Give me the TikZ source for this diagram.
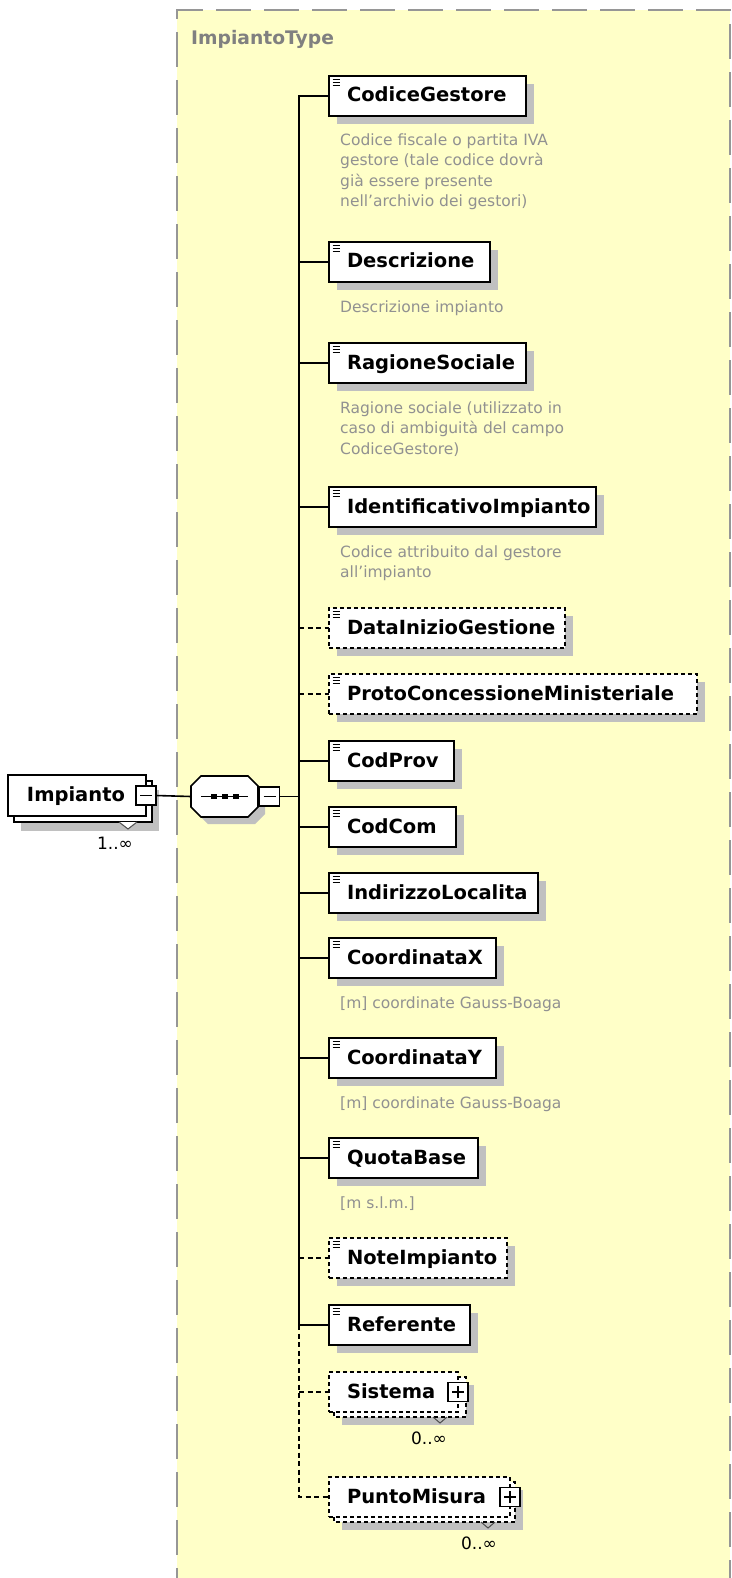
\documentclass[tikz,border=0pt]{standalone}
\usepackage{fontspec}
\setmainfont{DejaVu Sans}
\definecolor{bgyellow}{RGB}{255,255,200}
\definecolor{bordergray}{RGB}{150,150,150}
\definecolor{shadowc}{RGB}{192,192,192}
\definecolor{anncol}{RGB}{145,145,145}
\definecolor{titlecol}{RGB}{128,128,128}
\tikzset{
  elembox/.style={draw=black, line width=1.6pt, fill=white, anchor=north west, outer sep=0pt,
    inner xsep=0pt, inner ysep=0pt, minimum height=40pt, align=left,
    text height=15pt, text depth=3pt, font=\fontsize{19.5}{20}\selectfont\bfseries},
  optbox/.style={elembox, dash pattern=on 4pt off 3pt},
  optline/.style={draw=black, line width=1.6pt, dash pattern=on 4pt off 3pt},
  conn/.style={draw=black, line width=1.6pt},
  optconn/.style={draw=black, line width=1.6pt, dash pattern=on 5pt off 3.5pt},
  ann/.style={anchor=north west, inner sep=0pt, align=left, text=anncol,
    font=\fontsize{15.5}{20.5}\selectfont},
  btn/.style={draw=black, line width=1.2pt, fill=white, minimum width=20pt,
    minimum height=19pt, inner sep=0pt, outer sep=0pt},
  mult/.style={inner sep=0pt, font=\fontsize{17}{18}\selectfont},
  vmark/.style={draw=black!70, line width=1pt},
}
\newcommand\Icon[1]{\foreach \k in {0,1,2}{\draw[line width=0.9pt] ([xshift=3.5pt,yshift=-3.5pt-3pt*\k]#1.north west) -- ++(7.5,0);}}
\newcommand\Elem[5]{%
  \fill[shadowc] (337,#2+8) rectangle ++(#3,40);
  \node[#5, text width=#3pt] (#1) at (329,#2) {\hspace*{18pt}#4};
  \Icon{#1}}
\newcommand\MinusSign[1]{\draw[line width=1.2pt] ([xshift=-6pt]#1.center) -- ([xshift=6pt]#1.center);}
\newcommand\PlusSign[1]{\draw[line width=1.2pt] ([xshift=-6pt]#1.center) -- ([xshift=6pt]#1.center);
  \draw[line width=1.2pt] ([yshift=-6pt]#1.center) -- ([yshift=6pt]#1.center);}
\begin{document}
\begin{tikzpicture}[x=1pt,y=-1pt,line join=miter]
\useasboundingbox (0,0) rectangle (731,1578);
\clip (0,0) rectangle (731,1578);
\fill[white] (0,0) rectangle (731,1578);
% complex type area
\fill[bgyellow] (177,10) rectangle (730,1600);
\draw[bordergray, line width=2.2pt, dash pattern=on 35pt off 13pt, dash phase=3pt]
  (177,1600) -- (177,10) -- (730,10) -- (730,1600);
\node[anchor=base west, inner sep=0pt, text=titlecol, font=\fontsize{18.7}{20}\selectfont\bfseries] (title) at (191,45) {ImpiantoType};
\coordinate (trunk) at (299,0);

% root element Impianto
\fill[shadowc] (21,790) rectangle ++(138,41);
\draw[conn, fill=white] (14,781) rectangle ++(138,41);
\node[elembox, text width=138pt, minimum height=41pt] (imp) at (8,775) {\hspace*{19pt}Impianto};
\node[btn] (impbtn) at (imp.east) {};
\MinusSign{impbtn}
\draw[vmark, fill=white] (119,822) -- (128,829) -- (137,822);
\node[mult] (m1) at (115,843) {1..∞};

% sequence compositor
\node[inner sep=0pt, outer sep=0pt, minimum width=67pt, minimum height=41pt] (seq) at (224.5,796.5) {};
\begin{scope}[shift={(7,7)}]
\fill[shadowc] (201,776) -- (248,776) -- (258,786) -- (258,807) -- (248,817) -- (201,817) -- (191,807) -- (191,786) -- cycle;
\end{scope}
\draw[conn, fill=white] (201,776) -- (248,776) -- (258,786) -- (258,807) -- (248,817) -- (201,817) -- (191,807) -- (191,786) -- cycle;
\draw[line width=1.4pt] (201,796.5) -- (248,796.5);
\foreach \xx in {214,225,236} \fill (\xx-2.7,793.8) rectangle ++(5.4,5.4);
\node[btn] (seqbtn) at (269.5,796.5) {};
\MinusSign{seqbtn}
\draw[conn] (impbtn.east) -- (seq.west);
\draw[conn] (seqbtn.east) -- (trunk |- seqbtn.east);

% simple child elements
\Elem{cg}{76}{197}{CodiceGestore}{elembox}
\Elem{desc}{242}{161}{Descrizione}{elembox}
\Elem{rs}{343}{197}{RagioneSociale}{elembox}
\Elem{idimp}{487}{267}{IdentificativoImpianto}{elembox}
\Elem{dig}{608}{236}{DataInizioGestione}{optbox}
\Elem{pcm}{674}{368}{ProtoConcessioneMinisteriale}{optbox}
\Elem{cprov}{741}{125}{CodProv}{elembox}
\Elem{ccom}{807}{127}{CodCom}{elembox}
\Elem{ind}{873}{209}{IndirizzoLocalita}{elembox}
\Elem{cx}{938}{167}{CoordinataX}{elembox}
\Elem{cy}{1038}{167}{CoordinataY}{elembox}
\Elem{qb}{1138}{149}{QuotaBase}{elembox}
\Elem{note}{1238}{178}{NoteImpianto}{optbox}
\Elem{ref}{1305}{141}{Referente}{elembox}

% complex child Sistema
\fill[shadowc] (342,1385) rectangle ++(132,40);
\draw[optline, fill=white] (334,1377) rectangle ++(132,40);
\node[optbox, text width=129pt] (sis) at (329,1372) {\hspace*{18pt}Sistema};
\node[btn] (sisbtn) at (sis.east) {};
\PlusSign{sisbtn}
\draw[vmark] (433,1417) -- (440,1423) -- (447,1417);
\node[mult] (m2) at (429,1438) {0..∞};

% complex child PuntoMisura
\fill[shadowc] (342,1490) rectangle ++(181,40);
\draw[optline, fill=white] (334,1482) rectangle ++(181,40);
\node[optbox, text width=181pt] (pm) at (329,1477) {\hspace*{18pt}PuntoMisura};
\node[btn] (pmbtn) at (pm.east) {};
\PlusSign{pmbtn}
\draw[vmark] (481,1522) -- (488,1528) -- (495,1522);
\node[mult] (m3) at (479,1543) {0..∞};

% trunk and branches
\draw[conn] (cg.west) -- (trunk |- cg.west) -- (trunk |- ref.west) -- (ref.west);
\draw[optconn] (trunk |- ref.west) -- (trunk |- pm.west) -- (pm.west);
\foreach \n in {desc,rs,idimp,cprov,ccom,ind,cx,cy,qb} \draw[conn] (trunk |- \n.west) -- (\n.west);
\foreach \n in {dig,pcm,note,sis} \draw[optconn] (trunk |- \n.west) -- (\n.west);

% annotations
\node[ann] (a1) at (340,132) {\rule{0pt}{13pt}Codice fiscale o partita IVA\\gestore (tale codice dovrà\\già essere presente\\nell'archivio dei gestori)};
\node[ann] (a2) at (340,299) {\rule{0pt}{13pt}Descrizione impianto};
\node[ann] (a3) at (340,400) {\rule{0pt}{13pt}Ragione sociale (utilizzato in\\caso di ambiguità del campo\\CodiceGestore)};
\node[ann] (a4) at (340,544) {\rule{0pt}{13pt}Codice attribuito dal gestore\\all'impianto};
\node[ann] (a5) at (340,995) {\rule{0pt}{13pt}[m] coordinate Gauss-Boaga};
\node[ann] (a6) at (340,1095) {\rule{0pt}{13pt}[m] coordinate Gauss-Boaga};
\node[ann] (a7) at (340,1195) {\rule{0pt}{13pt}[m s.l.m.]};
\end{tikzpicture}
\end{document}
